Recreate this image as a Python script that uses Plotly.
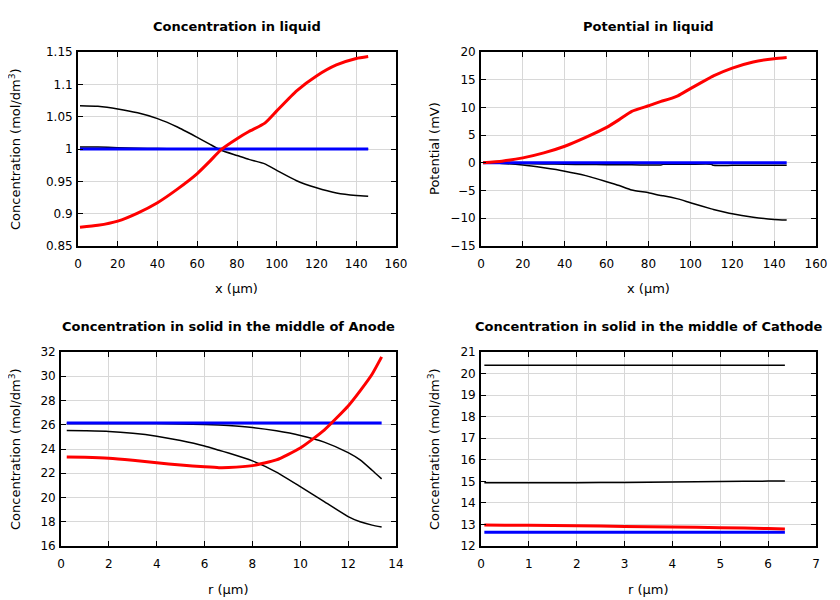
import plotly.graph_objects as go

# ---------------- data ----------------
x_liq = [1, 10, 20, 30, 40, 50, 60, 66, 72, 80, 86, 94, 100, 110, 120, 130, 140, 146]

c_liq_blue = [1.0] * len(x_liq)
c_liq_black1 = [1.003, 1.003, 1.002, 1.0012, 1.0007, 1.0004, 1.0002, 1.0001, 1.0, 1.0, 1.0, 1.0,
                0.9999, 0.9999, 0.9999, 0.9999, 0.9999, 0.9999]
c_liq_black2 = [1.067, 1.066, 1.062, 1.056, 1.047, 1.034, 1.018, 1.008, 0.998, 0.990, 0.984, 0.977,
                0.967, 0.951, 0.940, 0.932, 0.928, 0.927]
c_liq_red = [0.879, 0.882, 0.8885, 0.901, 0.917, 0.938, 0.962, 0.980, 0.999, 1.016, 1.027, 1.040,
             1.059, 1.090, 1.113, 1.130, 1.140, 1.143]

x_pot = [1, 10, 20, 30, 40, 50, 60, 66, 72, 80, 86, 87, 94, 100, 110, 111, 120, 130, 140, 146]
phi_blue = [0.0] * len(x_pot)
phi_black1 = [0, -0.05, -0.12, -0.2, -0.25, -0.3, -0.33, -0.35, -0.36, -0.37, -0.37, -0.25,
              -0.25, -0.25, -0.25, -0.45, -0.45, -0.45, -0.45, -0.45]
phi_black2 = [0, -0.1, -0.4, -0.9, -1.5, -2.3, -3.4, -4.1, -4.9, -5.4, -5.9, -5.95, -6.5, -7.2,
              -8.3, -8.4, -9.2, -9.8, -10.2, -10.3]
phi_red = [0, 0.3, 0.9, 1.8, 3.0, 4.6, 6.4, 7.8, 9.3, 10.3, 11.1, 11.2, 12.1, 13.4, 15.5, 15.7,
           17.1, 18.2, 18.8, 19.0]

r_an = [0.24, 1, 2, 3, 4, 5, 6, 6.6, 7, 8, 9, 10, 11, 12, 12.5, 13, 13.4]
cs_an_blue = [26.15] * len(r_an)
cs_an_black1 = [26.1, 26.1, 26.1, 26.1, 26.1, 26.07, 26.02, 25.97, 25.93, 25.77, 25.5, 25.12,
                24.57, 23.7, 23.1, 22.25, 21.54]
cs_an_black2 = [25.53, 25.5, 25.45, 25.3, 25.06, 24.7, 24.25, 23.9, 23.67, 23.02, 22.1, 20.9,
                19.66, 18.43, 18.0, 17.72, 17.56]
cs_an_red = [23.35, 23.32, 23.24, 23.07, 22.86, 22.68, 22.53, 22.46, 22.47, 22.63, 23.1, 24.08,
             25.56, 27.55, 28.8, 30.17, 31.6]

r_ca = [0.07, 0.5, 1, 2, 3, 4, 5, 6, 6.35]
cs_ca_blue = [12.64] * len(r_ca)
cs_ca_black1 = [20.39] * len(r_ca)
cs_ca_black2 = [14.93, 14.93, 14.93, 14.94, 14.95, 14.97, 14.99, 15.01, 15.02]
cs_ca_red = [12.97, 12.96, 12.96, 12.94, 12.91, 12.88, 12.85, 12.81, 12.79]

titles = ["Concentration in liquid", "Potential in liquid",
          "Concentration in solid in the middle of Anode",
          "Concentration in solid in the middle of Cathode"]
xtitles = ["x (µm)", "x (µm)", "r (µm)", "r (µm)"]
ytitles = ["Concentration (mol/dm<sup>3</sup>)", "Potential (mV)",
           "Concentration (mol/dm<sup>3</sup>)", "Concentration (mol/dm<sup>3</sup>)"]

# ---------------- figure ----------------
W, H = 840, 600
OFF = 8  # page body margin in the browser
FONT = "DejaVu Sans"
# plot areas in page pixels: (left, right, top, bottom)
areas = [(78, 396, 52, 246), (481, 816, 52, 246), (61, 396, 352, 546), (481, 816, 352, 546)]
xranges = [[0, 160], [0, 160], [0, 14], [0, 7]]
yranges = [[0.85, 1.15], [-15, 20], [16, 32], [12, 21]]
xdt = [20, 20, 2, 1]
ydt = [0.05, 5, 2, 1]


def px(p):
    return (p - OFF) / W


def py(p):
    return 1 - (p - OFF) / H


fig = go.Figure()

series = [
    (x_liq, [c_liq_blue, c_liq_black1, c_liq_black2, c_liq_red]),
    (x_pot, [phi_blue, phi_black1, phi_black2, phi_red]),
    (r_an, [cs_an_blue, cs_an_black1, cs_an_black2, cs_an_red]),
    (r_ca, [cs_ca_blue, cs_ca_black1, cs_ca_black2, cs_ca_red]),
]
styles = [("#0000ff", 3), ("#000000", 1.5), ("#000000", 1.5), ("#ff0000", 3)]

for i, (xs, ys_list) in enumerate(series):
    suffix = "" if i == 0 else str(i + 1)
    order = [1, 2, 0, 3]
    for k in order:
        color, width = styles[k]
        fig.add_trace(go.Scatter(x=xs, y=ys_list[k], mode="lines",
                                 line=dict(color=color, width=width, shape="spline", smoothing=0.5),
                                 xaxis="x" + suffix, yaxis="y" + suffix, showlegend=False,
                                 hoverinfo="skip"))

layout = dict(width=W, height=H, margin=dict(l=0, r=0, t=0, b=0, pad=0, autoexpand=False),
              template="none",
              paper_bgcolor="white", plot_bgcolor="white",
              font=dict(family=FONT, size=13, color="black"), annotations=[])

for i, (l, r, t, b) in enumerate(areas):
    suffix = "" if i == 0 else str(i + 1)
    axcommon = dict(showline=True, linecolor="black", linewidth=1.8, mirror="allticks",
                    ticks="inside", ticklen=5, tickcolor="black", tickwidth=1.2,
                    showgrid=True, gridcolor="#d8d8d8", gridwidth=1, zeroline=False,
                    automargin=False,
                    tickfont=dict(family=FONT, size=12, color="black"))
    layout["xaxis" + suffix] = dict(axcommon, domain=[px(l), px(r)], range=xranges[i],
                                    dtick=xdt[i], tick0=0, anchor="y" + suffix,
                                    ticklabelstandoff=6)
    layout["yaxis" + suffix] = dict(axcommon, domain=[py(b), py(t)], range=yranges[i],
                                    dtick=ydt[i], tick0=0, anchor="x" + suffix,
                                    ticklabelstandoff=1)
    cx = px((l + r) / 2)
    layout["annotations"].append(dict(text="<b>" + titles[i] + "</b>", x=cx, y=py(t - 26),
                                      xref="paper", yref="paper", showarrow=False,
                                      xanchor="center", yanchor="middle",
                                      font=dict(family=FONT, size=13, color="black")))
    layout["annotations"].append(dict(text=xtitles[i], x=cx, y=py(b + 43),
                                      xref="paper", yref="paper", showarrow=False,
                                      xanchor="center", yanchor="middle",
                                      font=dict(family=FONT, size=13, color="black")))
    ylx = 15 if i in (0, 2) else 434
    layout["annotations"].append(dict(text=ytitles[i], x=px(ylx), y=py((t + b) / 2),
                                      xref="paper", yref="paper", showarrow=False, textangle=-90,
                                      xanchor="center", yanchor="middle",
                                      font=dict(family=FONT, size=13, color="black")))

fig.update_layout(**layout)
fig.write_html("out.html")
